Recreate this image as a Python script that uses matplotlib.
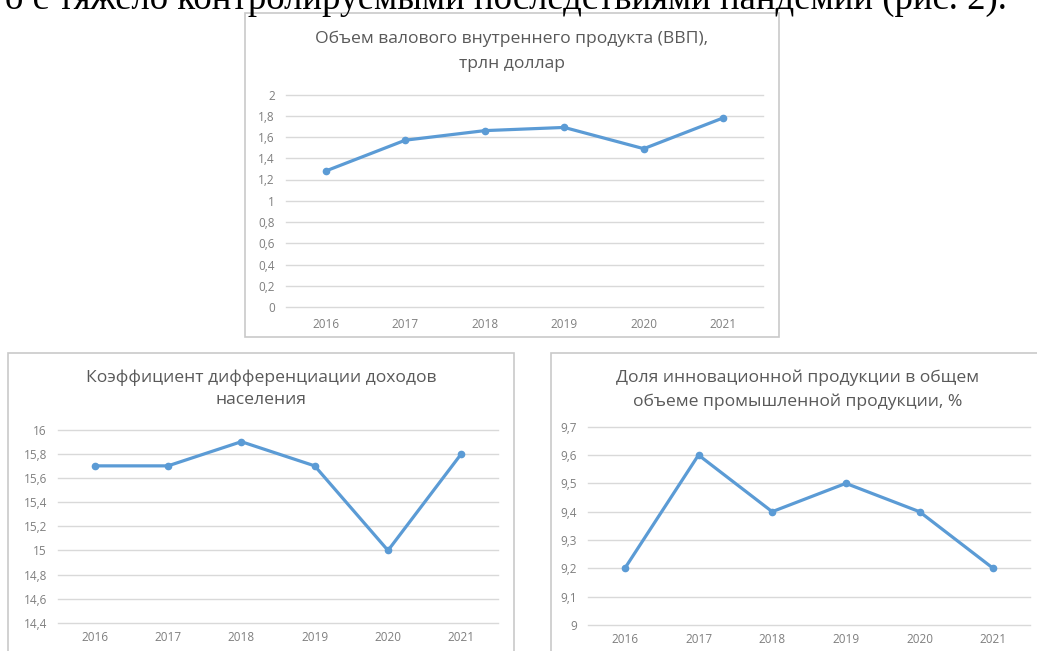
import matplotlib
matplotlib.use("Agg")
import matplotlib.pyplot as plt
from matplotlib.patches import Rectangle
from matplotlib.ticker import FuncFormatter, MultipleLocator

plt.rcParams['font.family'] = ['Open Sans', 'DejaVu Sans']

years = ["2016", "2017", "2018", "2019", "2020", "2021"]
gdp = [1.28, 1.57, 1.66, 1.69, 1.49, 1.78]
income_ratio = [15.7, 15.7, 15.9, 15.7, 15.0, 15.8]
innov_share = [9.2, 9.6, 9.4, 9.5, 9.4, 9.2]

title_gdp = ["Объем валового внутреннего продукта (ВВП),", "трлн доллар"]
title_income = ["Коэффициент дифференциации доходов", "населения"]
title_innov = ["Доля инновационной продукции в общем", "объеме промышленной продукции, %"]
caption = "о с тяжело контролируемыми последствиями пандемии (рис. 2)."

W, H = 1037, 651
fig = plt.figure(figsize=(W / 100, H / 100), dpi=100)
fig.patch.set_facecolor("white")

LINE = "#5b9bd5"
GRID = "#d9d9d9"
TXT = "#595959"
TICK = "#7f7f7f"


def fx(x):
    return x / W


def fy(y):
    return 1 - y / H


def panel(x0, y0, x1, y1):
    fig.patches.append(Rectangle((fx(x0), fy(y1)), fx(x1 - x0), (y1 - y0) / H,
                                 transform=fig.transFigure, facecolor="white",
                                 edgecolor="#c9c9c9", linewidth=1.2, zorder=-1))


def comma(v, _):
    s = f"{v:.2f}".rstrip("0").rstrip(".")
    return s.replace(".", ",")


def chart(box, values, ylo, yhi, step, titles, tx, ty, dy, xpad=6):
    left, top, right, bottom = box
    ax = fig.add_axes([fx(left), fy(bottom), fx(right - left), (bottom - top) / H])
    ax.set_zorder(2)
    x = range(len(years))
    ax.plot(x, values, color=LINE, linewidth=2.3, marker="o", markersize=4.5,
            solid_joinstyle="round", zorder=3)
    ax.set_xlim(-0.5, len(years) - 0.5)
    ax.set_ylim(ylo, yhi)
    ax.yaxis.set_major_locator(MultipleLocator(step))
    ax.yaxis.set_major_formatter(FuncFormatter(comma))
    ax.set_xticks(list(x))
    ax.set_xticklabels(years)
    ax.grid(axis="y", color=GRID, linewidth=1)
    for gl in ax.get_ygridlines():
        gl.set_clip_on(False)
    ax.set_axisbelow(True)
    for s in ax.spines.values():
        s.set_visible(False)
    ax.tick_params(length=0, labelsize=8.5, colors=TICK)
    ax.tick_params(axis="y", pad=8)
    ax.tick_params(axis="x", pad=xpad)
    ax.patch.set_alpha(0)
    for i, t in enumerate(titles):
        fig.text(fx(tx), fy(ty + i * dy), t, ha="center", va="center",
                 fontsize=12.6, color=TXT, zorder=3)
    return ax


# running text line above the figure
fig.text(fx(1007), fy(9), caption, ha="right", va="baseline", fontsize=26.5,
         color="black", family=["Liberation Serif", "DejaVu Serif"])

panel(245, 13, 779, 337)
panel(8, 353, 514, 700)
panel(551, 353, 1100, 700)

chart((286, 94.5, 763, 307), gdp, 0, 2, 0.2, title_gdp, 512, 39, 25, xpad=8)
chart((58, 429.6, 498, 623), income_ratio, 14.4, 16, 0.2, title_income, 261, 378, 22)
chart((588, 426.7, 1030, 625), innov_share, 9.0, 9.7, 0.1, title_innov, 798, 378, 24)

fig.savefig("out.png", dpi=100)
